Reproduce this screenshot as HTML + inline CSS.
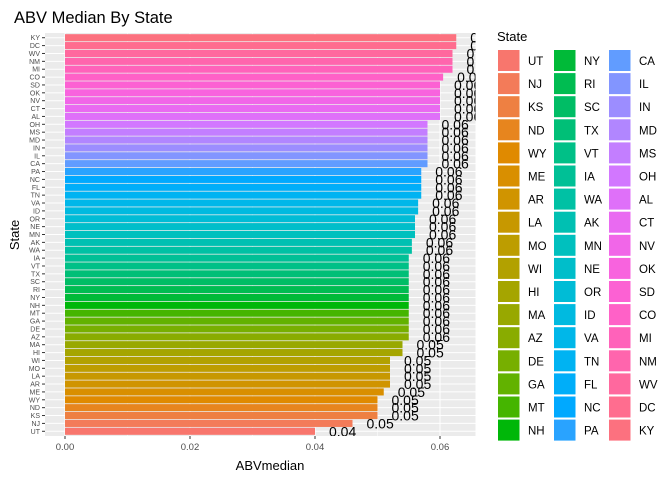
<!DOCTYPE html>
<html><head><meta charset="utf-8"><style>
body{margin:0;background:#fff;}
svg{font-family:"Liberation Sans",sans-serif;display:block;}
</style></head><body>
<svg id="chart" width="672" height="480">
<defs><clipPath id="pclip"><rect x="45" y="33" width="430.5" height="403"/></clipPath></defs>
<text x="14" y="23" font-size="16.5" fill="#000">ABV Median By State</text>
<rect x="45" y="33" width="430.5" height="403" fill="#EBEBEB"/>
<g id="grid"></g><g id="bars"></g><g id="labels" clip-path="url(#pclip)"></g><g id="axes"></g><g id="legend"></g>
<text x="270" y="470" font-size="13" text-anchor="middle" fill="#000">ABVmedian</text>
<text transform="translate(19,235) rotate(-90)" font-size="13" text-anchor="middle" fill="#000">State</text>
</svg>
<script>
const states=["UT","NJ","KS","ND","WY","ME","AR","LA","MO","WI","HI","MA","AZ","DE","GA","MT","NH","NY","RI","SC","TX","VT","IA","WA","AK","MN","NE","OR","ID","VA","TN","FL","NC","PA","CA","IL","IN","MD","MS","OH","AL","CT","NV","OK","SD","CO","MI","NM","WV","DC","KY"];
const values=[0.040,0.046,0.050,0.050,0.050,0.051,0.052,0.052,0.052,0.052,0.054,0.054,0.055,0.055,0.055,0.055,0.055,0.055,0.055,0.055,0.055,0.055,0.055,0.0555,0.0555,0.056,0.056,0.056,0.0565,0.0565,0.057,0.057,0.057,0.057,0.058,0.058,0.058,0.058,0.058,0.058,0.060,0.060,0.060,0.060,0.060,0.0605,0.062,0.062,0.062,0.0626,0.0626];
const xTicks=[0,0.02,0.04,0.06];
const xTickLabels=["0.00","0.02","0.04","0.06"];
const NS="http://www.w3.org/2000/svg";
const X0=65,XS=6250;
const xs=v=>X0+v*XS;
const nS=states.length, pTop=33, pBot=436, step=(pBot-pTop)/(nS-1+1.2);
const ys=i=>pBot-step*(0.6+i);
function mk(tag,at,parent){const e=document.createElementNS(NS,tag);for(const k in at)e.setAttribute(k,at[k]);document.getElementById(parent).appendChild(e);return e;}
function hcl2rgb(h,c,l){const hr=h*Math.PI/180;const U=c*Math.cos(hr),V=c*Math.sin(hr);
 const un=0.1978398,vn=0.4683363;const Y=l>8?Math.pow((l+16)/116,3):l/903.3;
 const u=U/(13*l)+un,v=V/(13*l)+vn;const X=9*Y*u/(4*v);const Z=-X/3-5*Y+3*Y/v;
 let r=3.240479*X-1.537150*Y-0.498535*Z,g=-0.969256*X+1.875992*Y+0.041556*Z,b=0.055648*X-0.204043*Y+1.057311*Z;
 const f=t=>{t=t<=0.0031308?12.92*t:1.055*Math.pow(t,1/2.4)-0.055;return Math.max(0,Math.min(255,Math.round(t*255)));};
 return "rgb("+f(r)+","+f(g)+","+f(b)+")";}
const colors=states.map((s,i)=>hcl2rgb(15+360*i/nS,100,65));
[0.01,0.03,0.05].forEach(v=>{const l=mk("line",{x1:xs(v),x2:xs(v),y1:pTop,y2:pBot,stroke:"#fff","stroke-width":0.5},"grid");

});
xTicks.forEach((v,i)=>{const l=mk("line",{x1:xs(v),x2:xs(v),y1:pTop,y2:pBot,stroke:"#fff","stroke-width":1},"grid");


const t=mk("line",{x1:xs(v),x2:xs(v),y1:pBot,y2:pBot+3,stroke:"#333","stroke-width":1},"axes");


const tx=mk("text",{x:xs(v),y:pBot+14,"font-size":"9.5","text-anchor":"middle",fill:"#4D4D4D"},"axes");tx.textContent=xTickLabels[i];

});
states.forEach((s,i)=>{const y=ys(i);
const g=mk("line",{x1:45,x2:475.5,y1:y,y2:y,stroke:"#fff","stroke-width":1},"grid");


const b=mk("rect",{x:xs(0),y:y-step*0.45,width:xs(values[i])-xs(0),height:step*0.9,fill:colors[i]},"bars");


const lb=mk("text",{x:xs(values[i])+14,y:y+5,"font-size":"14",fill:"#000"},"labels");lb.textContent=values[i].toFixed(2);


const tk=mk("line",{x1:42,x2:45,y1:y,y2:y,stroke:"#333","stroke-width":1},"axes");


const tl=mk("text",{x:40,y:y+2.5,"font-size":"7","text-anchor":"end",fill:"#4D4D4D"},"axes");tl.textContent=s;

});
const lt=mk("text",{x:497,y:41,"font-size":"13",fill:"#000"},"legend");lt.textContent="State";


const colX=[498,554,609];
states.forEach((s,i)=>{const c=Math.floor(i/17),r=i%17;const y=50+r*23.1;
const k=mk("rect",{x:colX[c],y:y,width:21.5,height:21,fill:colors[i]},"legend");


const t=mk("text",{x:colX[c]+30,y:y+15,"font-size":"11.5",fill:"#000"},"legend");t.textContent=s;

});
</script>
</body></html>
